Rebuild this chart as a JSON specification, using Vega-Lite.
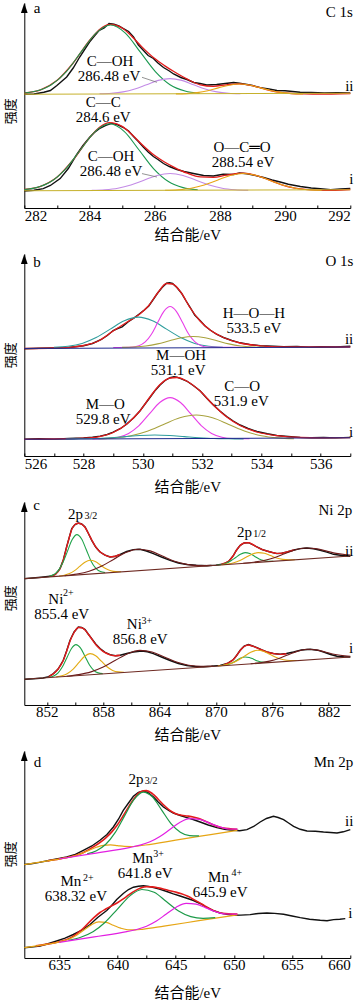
{
"$schema": "https://vega.github.io/schema/vega-lite/v6.json",
"background": "white",
"padding": {"top": 0, "left": 4.3, "right": 0, "bottom": 0},
"spacing": 46,
"bounds": "flush",
"resolve": {"scale": {"color": "independent"}},
"config": {
  "view": {"stroke": null},
  "font": "Liberation Serif",
  "axis": {"grid": false, "domainColor": "#000", "domainWidth": 1, "tickColor": "#000", "tickWidth": 1, "labelColor": "#000", "labelFont": "Liberation Serif", "labelFontSize": 15, "titleColor": "#000", "titleFont": "Liberation Serif, Noto Sans CJK SC", "titleFontSize": 15, "titleFontWeight": "normal"},
  "axisX": {"tickSize": -3, "labelPadding": 3, "labelFlush": true, "labelOverlap": false},
  "axisY": {"ticks": false, "labels": false},
  "text": {"font": "Liberation Serif", "fontSize": 15, "color": "#000", "baseline": "middle"}
},
"datasets": {
"ytitle_a": [{"x":281.585,"y":96.7,"t":"强度"}],
"ytitle_b": [{"x":525.544,"y":100.7,"t":"强度"}],
"ytitle_c": [{"x":848.162,"y":106.7,"t":"强度"}],
"ytitle_d": [{"x":630.839,"y":103.7,"t":"强度"}],
"a_raw": [
{"s":"ii","x":282,"y":113.8},{"s":"ii","x":282.3,"y":114.0},{"s":"ii","x":282.6,"y":115.8},{"s":"ii","x":282.8,"y":117.5},{"s":"ii","x":283.0,"y":122.5},{"s":"ii","x":283.3,"y":131},{"s":"ii","x":283.5,"y":140},{"s":"ii","x":283.7,"y":151},{"s":"ii","x":284.0,"y":166},{"s":"ii","x":284.15,"y":172},{"s":"ii","x":284.3,"y":177.7},{"s":"ii","x":284.45,"y":180},{"s":"ii","x":284.6,"y":184.5},{"s":"ii","x":284.75,"y":183.7},{"s":"ii","x":284.9,"y":182},{"s":"ii","x":285.04,"y":179.4},{"s":"ii","x":285.2,"y":176.5},{"s":"ii","x":285.35,"y":171},{"s":"ii","x":285.5,"y":163},{"s":"ii","x":285.65,"y":157.7},{"s":"ii","x":285.8,"y":152.5},{"s":"ii","x":285.96,"y":149.5},{"s":"ii","x":286.1,"y":145},{"s":"ii","x":286.27,"y":140.5},{"s":"ii","x":286.45,"y":137},{"s":"ii","x":286.58,"y":134},{"s":"ii","x":286.8,"y":130.5},{"s":"ii","x":286.99,"y":128.5},{"s":"ii","x":287.2,"y":125.5},{"s":"ii","x":287.39,"y":124.5},{"s":"ii","x":287.6,"y":123},{"s":"ii","x":287.9,"y":123.5},{"s":"ii","x":288.1,"y":124.2},{"s":"ii","x":288.42,"y":125.5},{"s":"ii","x":288.6,"y":124.8},{"s":"ii","x":288.83,"y":123.5},{"s":"ii","x":289.0,"y":122.5},{"s":"ii","x":289.24,"y":120.4},{"s":"ii","x":289.5,"y":119},{"s":"ii","x":289.75,"y":117.5},{"s":"ii","x":290.0,"y":117.3},{"s":"ii","x":290.46,"y":115.8},{"s":"ii","x":290.8,"y":115.6},{"s":"ii","x":291.2,"y":115.0},{"s":"ii","x":291.6,"y":115.2},{"s":"ii","x":292,"y":115},
{"s":"i","x":282.0,"y":17.0},{"s":"i","x":282.3,"y":17.8},{"s":"i","x":282.58,"y":19.4},{"s":"i","x":282.8,"y":22.5},{"s":"i","x":283.1,"y":29.4},{"s":"i","x":283.35,"y":39.5},{"s":"i","x":283.6,"y":53},{"s":"i","x":283.8,"y":62.5},{"s":"i","x":284.0,"y":70.5},{"s":"i","x":284.15,"y":75.5},{"s":"i","x":284.3,"y":79.4},{"s":"i","x":284.5,"y":82.6},{"s":"i","x":284.68,"y":84.6},{"s":"i","x":284.85,"y":83.5},{"s":"i","x":285.04,"y":80.5},{"s":"i","x":285.2,"y":77},{"s":"i","x":285.35,"y":71.5},{"s":"i","x":285.5,"y":66.5},{"s":"i","x":285.65,"y":61},{"s":"i","x":285.8,"y":56},{"s":"i","x":285.96,"y":51.5},{"s":"i","x":286.1,"y":48.5},{"s":"i","x":286.27,"y":44.5},{"s":"i","x":286.45,"y":41.5},{"s":"i","x":286.68,"y":38.5},{"s":"i","x":286.9,"y":36.5},{"s":"i","x":287.19,"y":34.5},{"s":"i","x":287.5,"y":32.5},{"s":"i","x":287.8,"y":32.0},{"s":"i","x":288.1,"y":33.8},{"s":"i","x":288.42,"y":33.5},{"s":"i","x":288.6,"y":35.0},{"s":"i","x":288.83,"y":34.2},{"s":"i","x":289.1,"y":32.4},{"s":"i","x":289.34,"y":30.5},{"s":"i","x":289.6,"y":28.0},{"s":"i","x":289.85,"y":26.0},{"s":"i","x":290.1,"y":23.8},{"s":"i","x":290.47,"y":21.5},{"s":"i","x":290.8,"y":20.0},{"s":"i","x":291.08,"y":19.2},{"s":"i","x":291.4,"y":18.3},{"s":"i","x":291.7,"y":19.0},{"s":"i","x":292.0,"y":19.5}
],
"a_fit": [
{"s":"ii","x":282,"y":115},{"s":"ii","x":282.5,"y":118.2},{"s":"ii","x":283,"y":127.4},{"s":"ii","x":283.5,"y":145},{"s":"ii","x":284,"y":167.5},{"s":"ii","x":284.3,"y":178.3},{"s":"ii","x":284.65,"y":183.6},{"s":"ii","x":285,"y":180},{"s":"ii","x":285.3,"y":171.6},{"s":"ii","x":285.6,"y":161.4},{"s":"ii","x":286,"y":149.4},{"s":"ii","x":286.3,"y":142.4},{"s":"ii","x":286.6,"y":136.2},{"s":"ii","x":287,"y":128.8},{"s":"ii","x":287.4,"y":123.2},{"s":"ii","x":287.8,"y":121.7},{"s":"ii","x":288.2,"y":123.2},{"s":"ii","x":288.6,"y":124.2},{"s":"ii","x":289,"y":122.3},{"s":"ii","x":289.4,"y":118.7},{"s":"ii","x":289.8,"y":115.8},{"s":"ii","x":290.2,"y":114.5},{"s":"ii","x":290.6,"y":114.1},{"s":"ii","x":291,"y":114},{"s":"ii","x":292,"y":114.5},
{"s":"i","x":282,"y":18.5},{"s":"i","x":282.5,"y":21.7},{"s":"i","x":283,"y":30.7},{"s":"i","x":283.5,"y":48.3},{"s":"i","x":284,"y":70.2},{"s":"i","x":284.3,"y":80.5},{"s":"i","x":284.62,"y":85.4},{"s":"i","x":285,"y":81.6},{"s":"i","x":285.3,"y":73.5},{"s":"i","x":285.6,"y":63.8},{"s":"i","x":286,"y":52.4},{"s":"i","x":286.3,"y":46},{"s":"i","x":286.6,"y":40.7},{"s":"i","x":287,"y":34.8},{"s":"i","x":287.4,"y":31.1},{"s":"i","x":287.8,"y":30.7},{"s":"i","x":288.2,"y":32.9},{"s":"i","x":288.72,"y":34.8},{"s":"i","x":289.1,"y":32.7},{"s":"i","x":289.5,"y":28.1},{"s":"i","x":289.9,"y":23.2},{"s":"i","x":290.3,"y":19.9},{"s":"i","x":290.7,"y":18.3},{"s":"i","x":291.2,"y":17.6},{"s":"i","x":292,"y":18.5}
],
"a_comp": [
{"s":"ii","c":"cc","x":282.0,"y":115.0},{"s":"ii","c":"cc","x":282.37,"y":117.0},{"s":"ii","c":"cc","x":282.83,"y":123.3},{"s":"ii","c":"cc","x":283.29,"y":136.4},{"s":"ii","c":"cc","x":283.74,"y":155.8},{"s":"ii","c":"cc","x":284.2,"y":174.9},{"s":"ii","c":"cc","x":284.65,"y":183},{"s":"ii","c":"cc","x":285.1,"y":174.9},{"s":"ii","c":"cc","x":285.56,"y":155.8},{"s":"ii","c":"cc","x":286.02,"y":136.4},{"s":"ii","c":"cc","x":286.47,"y":123.3},{"s":"ii","c":"cc","x":286.93,"y":117.0},{"s":"ii","c":"cc","x":287.38,"y":114.8},
{"s":"ii","c":"coh","x":284.31,"y":114.2},{"s":"ii","c":"coh","x":284.67,"y":114.7},{"s":"ii","c":"coh","x":285.03,"y":116.1},{"s":"ii","c":"coh","x":285.39,"y":119.0},{"s":"ii","c":"coh","x":285.75,"y":123.3},{"s":"ii","c":"coh","x":286.11,"y":127.6},{"s":"ii","c":"coh","x":286.47,"y":129.4},{"s":"ii","c":"coh","x":286.83,"y":127.6},{"s":"ii","c":"coh","x":287.19,"y":123.3},{"s":"ii","c":"coh","x":287.55,"y":119.0},{"s":"ii","c":"coh","x":287.91,"y":116.1},{"s":"ii","c":"coh","x":288.27,"y":114.7},{"s":"ii","c":"coh","x":288.63,"y":114.2},
{"s":"ii","c":"oco","x":286.65,"y":114.1},{"s":"ii","c":"oco","x":286.98,"y":114.4},{"s":"ii","c":"oco","x":287.3,"y":115.4},{"s":"ii","c":"oco","x":287.63,"y":117.3},{"s":"ii","c":"oco","x":287.95,"y":120.1},{"s":"ii","c":"oco","x":288.28,"y":122.8},{"s":"ii","c":"oco","x":288.6,"y":124},{"s":"ii","c":"oco","x":288.93,"y":122.8},{"s":"ii","c":"oco","x":289.25,"y":120.1},{"s":"ii","c":"oco","x":289.58,"y":117.3},{"s":"ii","c":"oco","x":289.9,"y":115.4},{"s":"ii","c":"oco","x":290.23,"y":114.4},{"s":"ii","c":"oco","x":290.55,"y":114.1},
{"s":"ii","c":"bg","x":282,"y":113.8},{"s":"ii","c":"bg","x":292,"y":114.8},
{"s":"i","c":"cc","x":282.0,"y":18.5},{"s":"i","c":"cc","x":282.37,"y":20.4},{"s":"i","c":"cc","x":282.82,"y":26.5},{"s":"i","c":"cc","x":283.27,"y":39.2},{"s":"i","c":"cc","x":283.72,"y":58.0},{"s":"i","c":"cc","x":284.17,"y":76.4},{"s":"i","c":"cc","x":284.62,"y":84.2},{"s":"i","c":"cc","x":285.07,"y":76.4},{"s":"i","c":"cc","x":285.52,"y":58.0},{"s":"i","c":"cc","x":285.97,"y":39.2},{"s":"i","c":"cc","x":286.42,"y":26.5},{"s":"i","c":"cc","x":286.87,"y":20.4},{"s":"i","c":"cc","x":287.32,"y":18.2},
{"s":"i","c":"coh","x":284.07,"y":17.7},{"s":"i","c":"coh","x":284.47,"y":18.3},{"s":"i","c":"coh","x":284.87,"y":19.8},{"s":"i","c":"coh","x":285.27,"y":23.0},{"s":"i","c":"coh","x":285.67,"y":27.8},{"s":"i","c":"coh","x":286.07,"y":32.5},{"s":"i","c":"coh","x":286.47,"y":34.5},{"s":"i","c":"coh","x":286.87,"y":32.5},{"s":"i","c":"coh","x":287.27,"y":27.8},{"s":"i","c":"coh","x":287.67,"y":23.0},{"s":"i","c":"coh","x":288.07,"y":19.8},{"s":"i","c":"coh","x":288.47,"y":18.3},{"s":"i","c":"coh","x":288.87,"y":17.7},
{"s":"i","c":"oco","x":286.32,"y":17.7},{"s":"i","c":"oco","x":286.72,"y":18.3},{"s":"i","c":"oco","x":287.12,"y":19.8},{"s":"i","c":"oco","x":287.52,"y":23.0},{"s":"i","c":"oco","x":287.92,"y":27.8},{"s":"i","c":"oco","x":288.32,"y":32.5},{"s":"i","c":"oco","x":288.72,"y":34.5},{"s":"i","c":"oco","x":289.12,"y":32.5},{"s":"i","c":"oco","x":289.52,"y":27.8},{"s":"i","c":"oco","x":289.92,"y":23.0},{"s":"i","c":"oco","x":290.32,"y":19.8},{"s":"i","c":"oco","x":290.72,"y":18.3},{"s":"i","c":"oco","x":291.12,"y":17.7},
{"s":"i","c":"bg","x":282,"y":17.2},{"s":"i","c":"bg","x":292,"y":18.3}
],
"a_text": [
{"x":284.63,"y":146.7,"t":"C—OH"},{"x":284.6,"y":131.7,"t":"286.48 eV"},{"x":284.42,"y":106.2,"t":"C—C"},{"x":284.42,"y":91.2,"t":"284.6 eV"},{"x":284.66,"y":51.7,"t":"C—OH"},{"x":284.66,"y":36.7,"t":"286.48 eV"},{"x":288.68,"y":61.2,"t":"O—C═O"},{"x":288.71,"y":46.2,"t":"288.54 eV"},{"x":291.97,"y":121.7,"t":"ii"},{"x":292.03,"y":28.7,"t":"i"},{"x":282.39,"y":200.2,"t":"a"},{"x":291.66,"y":196.2,"t":"C 1s"}
],
"a_lead": [
{"x":285.61,"y":130.7,"x2":286.07,"y2":125.7},{"x":285.61,"y":34.4,"x2":286.07,"y2":31}
],
"b_raw": [
{"s":"ii","x":526.0,"y":107.2},{"s":"ii","x":526.5,"y":107.8},{"s":"ii","x":527.0,"y":108.0},{"s":"ii","x":527.5,"y":108.5},{"s":"ii","x":528.0,"y":110.2},{"s":"ii","x":528.3,"y":112.5},{"s":"ii","x":528.6,"y":116.5},{"s":"ii","x":528.8,"y":120.5},{"s":"ii","x":529.0,"y":125.5},{"s":"ii","x":529.15,"y":127.5},{"s":"ii","x":529.3,"y":129.2},{"s":"ii","x":529.5,"y":134.0},{"s":"ii","x":529.7,"y":138.0},{"s":"ii","x":529.9,"y":142.5},{"s":"ii","x":530.05,"y":146.0},{"s":"ii","x":530.2,"y":150.0},{"s":"ii","x":530.35,"y":156.5},{"s":"ii","x":530.5,"y":163.0},{"s":"ii","x":530.65,"y":168.5},{"s":"ii","x":530.8,"y":172.8},{"s":"ii","x":530.9,"y":173.3},{"s":"ii","x":531.0,"y":172.5},{"s":"ii","x":531.15,"y":168.5},{"s":"ii","x":531.3,"y":163.0},{"s":"ii","x":531.45,"y":155.5},{"s":"ii","x":531.6,"y":148.5},{"s":"ii","x":531.75,"y":141.0},{"s":"ii","x":531.93,"y":135.5},{"s":"ii","x":532.1,"y":130.0},{"s":"ii","x":532.27,"y":126.0},{"s":"ii","x":532.5,"y":121.5},{"s":"ii","x":532.72,"y":118.5},{"s":"ii","x":533.0,"y":115.5},{"s":"ii","x":533.28,"y":113.2},{"s":"ii","x":533.6,"y":111.5},{"s":"ii","x":533.96,"y":110.3},{"s":"ii","x":534.4,"y":109.8},{"s":"ii","x":534.75,"y":109.2},{"s":"ii","x":535.2,"y":109.5},{"s":"ii","x":535.6,"y":108.9},{"s":"ii","x":536.0,"y":109.2},{"s":"ii","x":536.5,"y":109.0},{"s":"ii","x":537.0,"y":109.8},
{"s":"i","x":526.0,"y":16.7},{"s":"i","x":526.5,"y":17.2},{"s":"i","x":527.0,"y":16.9},{"s":"i","x":527.5,"y":17.5},{"s":"i","x":528.0,"y":18.0},{"s":"i","x":528.3,"y":18.9},{"s":"i","x":528.56,"y":19.9},{"s":"i","x":528.8,"y":21.5},{"s":"i","x":529.0,"y":23.8},{"s":"i","x":529.25,"y":27.5},{"s":"i","x":529.46,"y":32.0},{"s":"i","x":529.7,"y":38.5},{"s":"i","x":529.9,"y":45.0},{"s":"i","x":530.05,"y":51.0},{"s":"i","x":530.24,"y":58.5},{"s":"i","x":530.4,"y":65.0},{"s":"i","x":530.58,"y":71.0},{"s":"i","x":530.75,"y":75.5},{"s":"i","x":530.92,"y":78.3},{"s":"i","x":531.05,"y":79.2},{"s":"i","x":531.15,"y":78.8},{"s":"i","x":531.3,"y":77.2},{"s":"i","x":531.48,"y":75.0},{"s":"i","x":531.7,"y":70.5},{"s":"i","x":531.93,"y":65.2},{"s":"i","x":532.15,"y":58.0},{"s":"i","x":532.38,"y":51.0},{"s":"i","x":532.6,"y":45.0},{"s":"i","x":532.83,"y":39.5},{"s":"i","x":533.05,"y":35.0},{"s":"i","x":533.28,"y":31.0},{"s":"i","x":533.55,"y":27.5},{"s":"i","x":533.85,"y":24.5},{"s":"i","x":534.2,"y":22.2},{"s":"i","x":534.52,"y":20.5},{"s":"i","x":534.9,"y":19.5},{"s":"i","x":535.31,"y":18.6},{"s":"i","x":535.7,"y":18.2},{"s":"i","x":536.1,"y":18.5},{"s":"i","x":536.5,"y":18.1},{"s":"i","x":537.0,"y":18.6}
],
"b_fit": [
{"s":"ii","x":526,"y":107.5},{"s":"ii","x":527,"y":108},{"s":"ii","x":527.5,"y":108.6},{"s":"ii","x":528,"y":110.5},{"s":"ii","x":528.5,"y":115},{"s":"ii","x":529,"y":125},{"s":"ii","x":529.5,"y":134.5},{"s":"ii","x":529.9,"y":142},{"s":"ii","x":530.2,"y":150.5},{"s":"ii","x":530.5,"y":163},{"s":"ii","x":530.8,"y":172.5},{"s":"ii","x":531.0,"y":172},{"s":"ii","x":531.3,"y":163},{"s":"ii","x":531.6,"y":148},{"s":"ii","x":531.93,"y":135},{"s":"ii","x":532.27,"y":126},{"s":"ii","x":532.72,"y":118.5},{"s":"ii","x":533.28,"y":113},{"s":"ii","x":533.96,"y":110.2},{"s":"ii","x":534.75,"y":109.2},{"s":"ii","x":536,"y":109},{"s":"ii","x":537,"y":109},
{"s":"i","x":526,"y":16.7},{"s":"i","x":527,"y":17.0},{"s":"i","x":528,"y":17.8},{"s":"i","x":528.5,"y":19.2},{"s":"i","x":529.0,"y":23.5},{"s":"i","x":529.46,"y":32},{"s":"i","x":529.9,"y":45},{"s":"i","x":530.24,"y":59},{"s":"i","x":530.58,"y":71.5},{"s":"i","x":530.92,"y":78},{"s":"i","x":531.15,"y":78.5},{"s":"i","x":531.48,"y":75},{"s":"i","x":531.93,"y":65},{"s":"i","x":532.38,"y":51},{"s":"i","x":532.83,"y":39},{"s":"i","x":533.28,"y":30.5},{"s":"i","x":533.85,"y":24},{"s":"i","x":534.52,"y":20.3},{"s":"i","x":535.31,"y":18.5},{"s":"i","x":536,"y":18.2},{"s":"i","x":537,"y":18.4}
],
"b_comp": [
{"s":"ii","c":"mo","x":527.0,"y":108.8},{"s":"ii","c":"mo","x":527.475,"y":109.8},{"s":"ii","c":"mo","x":527.95,"y":112.6},{"s":"ii","c":"mo","x":528.425,"y":118.4},{"s":"ii","c":"mo","x":528.9,"y":126.9},{"s":"ii","c":"mo","x":529.375,"y":135.3},{"s":"ii","c":"mo","x":529.85,"y":138.9},{"s":"ii","c":"mo","x":530.325,"y":135.3},{"s":"ii","c":"mo","x":530.8,"y":126.9},{"s":"ii","c":"mo","x":531.275,"y":118.4},{"s":"ii","c":"mo","x":531.75,"y":112.6},{"s":"ii","c":"mo","x":532.225,"y":109.8},{"s":"ii","c":"mo","x":532.7,"y":108.8},
{"s":"ii","c":"moh","x":529.0,"y":108.5},{"s":"ii","c":"moh","x":529.66,"y":109.0},{"s":"ii","c":"moh","x":529.87,"y":110.3},{"s":"ii","c":"moh","x":530.08,"y":114.1},{"s":"ii","c":"moh","x":530.29,"y":121.8},{"s":"ii","c":"moh","x":530.5,"y":133.4},{"s":"ii","c":"moh","x":530.71,"y":144.7},{"s":"ii","c":"moh","x":530.92,"y":149.5},{"s":"ii","c":"moh","x":531.13,"y":144.7},{"s":"ii","c":"moh","x":531.34,"y":133.4},{"s":"ii","c":"moh","x":531.55,"y":121.8},{"s":"ii","c":"moh","x":531.76,"y":114.1},{"s":"ii","c":"moh","x":531.97,"y":110.3},{"s":"ii","c":"moh","x":532.18,"y":109.0},{"s":"ii","c":"moh","x":533.3,"y":108.6},
{"s":"ii","c":"co","x":529.3,"y":108.6},{"s":"ii","c":"co","x":529.7,"y":109.0},{"s":"ii","c":"co","x":530.1,"y":110.0},{"s":"ii","c":"co","x":530.5,"y":112.1},{"s":"ii","c":"co","x":530.9,"y":115.2},{"s":"ii","c":"co","x":531.3,"y":118.2},{"s":"ii","c":"co","x":531.7,"y":119.5},{"s":"ii","c":"co","x":532.1,"y":118.2},{"s":"ii","c":"co","x":532.5,"y":115.2},{"s":"ii","c":"co","x":532.9,"y":112.1},{"s":"ii","c":"co","x":533.3,"y":110.0},{"s":"ii","c":"co","x":533.7,"y":109.0},{"s":"ii","c":"co","x":534.1,"y":108.6},
{"s":"ii","c":"bg","x":526,"y":107.5},{"s":"ii","c":"bg","x":537,"y":109},
{"s":"i","c":"moh","x":528.3,"y":17.1},{"s":"i","c":"moh","x":528.82,"y":17.5},{"s":"i","c":"moh","x":529.17,"y":18.8},{"s":"i","c":"moh","x":529.52,"y":22.6},{"s":"i","c":"moh","x":529.87,"y":30.4},{"s":"i","c":"moh","x":530.22,"y":42.1},{"s":"i","c":"moh","x":530.57,"y":53.5},{"s":"i","c":"moh","x":530.92,"y":58.4},{"s":"i","c":"moh","x":531.27,"y":53.5},{"s":"i","c":"moh","x":531.62,"y":42.1},{"s":"i","c":"moh","x":531.97,"y":30.4},{"s":"i","c":"moh","x":532.32,"y":22.6},{"s":"i","c":"moh","x":532.67,"y":18.8},{"s":"i","c":"moh","x":533.02,"y":17.5},{"s":"i","c":"moh","x":533.6,"y":17.3},
{"s":"i","c":"co","x":528.5,"y":17.3},{"s":"i","c":"co","x":529.05,"y":18.1},{"s":"i","c":"co","x":529.6,"y":20.3},{"s":"i","c":"co","x":530.15,"y":24.8},{"s":"i","c":"co","x":530.7,"y":31.6},{"s":"i","c":"co","x":531.25,"y":38.2},{"s":"i","c":"co","x":531.8,"y":41},{"s":"i","c":"co","x":532.35,"y":38.2},{"s":"i","c":"co","x":532.9,"y":31.6},{"s":"i","c":"co","x":533.45,"y":24.8},{"s":"i","c":"co","x":534.0,"y":20.3},{"s":"i","c":"co","x":534.55,"y":18.1},{"s":"i","c":"co","x":535.1,"y":17.3},
{"s":"i","c":"mo","x":527.4,"y":17.0},{"s":"i","c":"mo","x":527.9,"y":17.2},{"s":"i","c":"mo","x":528.4,"y":17.5},{"s":"i","c":"mo","x":528.9,"y":18.3},{"s":"i","c":"mo","x":529.4,"y":19.4},{"s":"i","c":"mo","x":529.9,"y":20.5},{"s":"i","c":"mo","x":530.4,"y":21.0},{"s":"i","c":"mo","x":530.9,"y":20.5},{"s":"i","c":"mo","x":531.4,"y":19.4},{"s":"i","c":"mo","x":531.9,"y":18.3},{"s":"i","c":"mo","x":532.4,"y":17.5},{"s":"i","c":"mo","x":532.9,"y":17.2},{"s":"i","c":"mo","x":533.4,"y":17.0},
{"s":"i","c":"bg","x":526,"y":16.7},{"s":"i","c":"bg","x":537,"y":18.2}
],
"b_text": [
{"x":533.75,"y":143,"t":"H—O—H"},{"x":533.75,"y":128,"t":"533.5 eV"},{"x":531.29,"y":100.8,"t":"M—OH"},{"x":531.19,"y":85.8,"t":"531.1 eV"},{"x":533.35,"y":70,"t":"C—O"},{"x":533.32,"y":55,"t":"531.9 eV"},{"x":528.73,"y":52.5,"t":"M—O"},{"x":528.66,"y":37.5,"t":"529.8 eV"},{"x":536.96,"y":116.7,"t":"ii"},{"x":537.03,"y":23.7,"t":"i"},{"x":526.43,"y":193.7,"t":"b"},{"x":536.63,"y":194.7,"t":"O 1s"}
],
"c_raw": [
{"s":"ii","x":849.67,"y":126.4},{"s":"ii","x":850.5,"y":127.0},{"s":"ii","x":851.4,"y":127.8},{"s":"ii","x":852.34,"y":128.7},{"s":"ii","x":852.9,"y":130.5},{"s":"ii","x":853.4,"y":136.4},{"s":"ii","x":853.75,"y":145},{"s":"ii","x":854.1,"y":158},{"s":"ii","x":854.4,"y":168},{"s":"ii","x":854.65,"y":176.4},{"s":"ii","x":855.0,"y":180.5},{"s":"ii","x":855.35,"y":182},{"s":"ii","x":855.7,"y":181},{"s":"ii","x":856.07,"y":178},{"s":"ii","x":856.4,"y":172},{"s":"ii","x":856.78,"y":164.7},{"s":"ii","x":857.2,"y":158},{"s":"ii","x":857.66,"y":153},{"s":"ii","x":858.2,"y":149.8},{"s":"ii","x":858.73,"y":148},{"s":"ii","x":859.3,"y":148.8},{"s":"ii","x":859.8,"y":150.7},{"s":"ii","x":860.5,"y":153.5},{"s":"ii","x":861.2,"y":155.4},{"s":"ii","x":861.92,"y":155.7},{"s":"ii","x":862.6,"y":154},{"s":"ii","x":863.34,"y":151.4},{"s":"ii","x":864.2,"y":148},{"s":"ii","x":865.12,"y":144.7},{"s":"ii","x":866.0,"y":142},{"s":"ii","x":866.9,"y":140.5},{"s":"ii","x":867.9,"y":139.7},{"s":"ii","x":869.03,"y":139.3},{"s":"ii","x":870.0,"y":139.9},{"s":"ii","x":870.8,"y":141.0},{"s":"ii","x":871.4,"y":144},{"s":"ii","x":871.86,"y":149.7},{"s":"ii","x":872.2,"y":155},{"s":"ii","x":872.58,"y":159.7},{"s":"ii","x":873.0,"y":162},{"s":"ii","x":873.46,"y":162.4},{"s":"ii","x":873.9,"y":160.5},{"s":"ii","x":874.36,"y":158},{"s":"ii","x":874.9,"y":155.5},{"s":"ii","x":875.42,"y":154},{"s":"ii","x":876.0,"y":152.5},{"s":"ii","x":876.49,"y":151.4},{"s":"ii","x":877.0,"y":151.8},{"s":"ii","x":877.55,"y":153},{"s":"ii","x":878.3,"y":155},{"s":"ii","x":878.97,"y":156.4},{"s":"ii","x":879.68,"y":157},{"s":"ii","x":880.4,"y":156.2},{"s":"ii","x":881.1,"y":154.7},{"s":"ii","x":881.8,"y":152.8},{"s":"ii","x":882.52,"y":150.7},{"s":"ii","x":883.4,"y":149.5},{"s":"ii","x":884.3,"y":148.7},
{"s":"i","x":849.67,"y":25.7},{"s":"i","x":850.6,"y":26.2},{"s":"i","x":851.6,"y":27},{"s":"i","x":852.2,"y":28.3},{"s":"i","x":852.7,"y":31.4},{"s":"i","x":853.2,"y":36},{"s":"i","x":853.75,"y":44.7},{"s":"i","x":854.1,"y":54},{"s":"i","x":854.47,"y":64.7},{"s":"i","x":854.9,"y":73},{"s":"i","x":855.35,"y":78},{"s":"i","x":855.7,"y":77.5},{"s":"i","x":856.07,"y":75.4},{"s":"i","x":856.4,"y":71},{"s":"i","x":856.78,"y":66.4},{"s":"i","x":857.2,"y":61},{"s":"i","x":857.66,"y":56.4},{"s":"i","x":858.2,"y":52.6},{"s":"i","x":858.73,"y":50.4},{"s":"i","x":859.3,"y":49.3},{"s":"i","x":859.8,"y":49.7},{"s":"i","x":860.5,"y":51.5},{"s":"i","x":861.2,"y":53},{"s":"i","x":862.1,"y":54},{"s":"i","x":862.7,"y":53.2},{"s":"i","x":863.34,"y":51.4},{"s":"i","x":864.2,"y":48},{"s":"i","x":865.12,"y":44.5},{"s":"i","x":866.0,"y":41.5},{"s":"i","x":866.9,"y":39.5},{"s":"i","x":867.8,"y":38.5},{"s":"i","x":868.67,"y":38.2},{"s":"i","x":869.5,"y":38.7},{"s":"i","x":870.45,"y":39.6},{"s":"i","x":871.2,"y":41.5},{"s":"i","x":871.86,"y":45.5},{"s":"i","x":872.2,"y":49.5},{"s":"i","x":872.58,"y":54.7},{"s":"i","x":873.0,"y":58.8},{"s":"i","x":873.46,"y":60.4},{"s":"i","x":873.9,"y":59},{"s":"i","x":874.36,"y":57.4},{"s":"i","x":874.9,"y":55},{"s":"i","x":875.42,"y":53},{"s":"i","x":876.1,"y":51.5},{"s":"i","x":876.84,"y":50.7},{"s":"i","x":877.5,"y":51.5},{"s":"i","x":878.26,"y":53},{"s":"i","x":879.1,"y":55},{"s":"i","x":880.04,"y":55.7},{"s":"i","x":880.8,"y":54.8},{"s":"i","x":881.46,"y":53},{"s":"i","x":882.2,"y":50.5},{"s":"i","x":882.88,"y":48.7},{"s":"i","x":883.6,"y":48.2},{"s":"i","x":884.3,"y":48}
],
"c_fit": [
{"s":"ii1","x":852.34,"y":128.7},{"s":"ii1","x":852.9,"y":130.5},{"s":"ii1","x":853.4,"y":136.2},{"s":"ii1","x":853.75,"y":145},{"s":"ii1","x":854.1,"y":157.5},{"s":"ii1","x":854.4,"y":168},{"s":"ii1","x":854.65,"y":175.5},{"s":"ii1","x":855.0,"y":180.5},{"s":"ii1","x":855.35,"y":181.8},{"s":"ii1","x":855.7,"y":180.8},{"s":"ii1","x":856.07,"y":177.5},{"s":"ii1","x":856.4,"y":172},{"s":"ii1","x":856.78,"y":165},{"s":"ii1","x":857.2,"y":158.2},{"s":"ii1","x":857.66,"y":153.2},{"s":"ii1","x":858.2,"y":149.8},{"s":"ii1","x":858.73,"y":148.2},{"s":"ii1","x":859.3,"y":148.8},{"s":"ii1","x":859.8,"y":150.5},
{"s":"ii2","x":870.6,"y":140.8},{"s":"ii2","x":871.0,"y":142},{"s":"ii2","x":871.4,"y":144.2},{"s":"ii2","x":871.86,"y":149.5},{"s":"ii2","x":872.2,"y":155},{"s":"ii2","x":872.58,"y":159.5},{"s":"ii2","x":873.0,"y":162},{"s":"ii2","x":873.46,"y":162.2},{"s":"ii2","x":873.9,"y":160.5},{"s":"ii2","x":874.36,"y":158},{"s":"ii2","x":874.9,"y":155.6},{"s":"ii2","x":875.42,"y":154},{"s":"ii2","x":876.0,"y":152.6},{"s":"ii2","x":876.49,"y":151.6},{"s":"ii2","x":877.0,"y":151.8},{"s":"ii2","x":877.55,"y":153},{"s":"ii2","x":878.3,"y":155},
{"s":"i1","x":852.2,"y":28.3},{"s":"i1","x":852.7,"y":31.2},{"s":"i1","x":853.2,"y":36},{"s":"i1","x":853.75,"y":44.5},{"s":"i1","x":854.1,"y":53.5},{"s":"i1","x":854.47,"y":64},{"s":"i1","x":854.9,"y":72.5},{"s":"i1","x":855.35,"y":77.5},{"s":"i1","x":855.7,"y":77.3},{"s":"i1","x":856.07,"y":75},{"s":"i1","x":856.4,"y":71},{"s":"i1","x":856.78,"y":66},{"s":"i1","x":857.2,"y":60.5},{"s":"i1","x":857.66,"y":56},{"s":"i1","x":858.2,"y":52.3},{"s":"i1","x":858.73,"y":50.2},{"s":"i1","x":859.3,"y":49.3},{"s":"i1","x":859.8,"y":49.8},
{"s":"i2","x":870.8,"y":40.2},{"s":"i2","x":871.4,"y":42.5},{"s":"i2","x":871.86,"y":45.5},{"s":"i2","x":872.2,"y":49.5},{"s":"i2","x":872.58,"y":54.5},{"s":"i2","x":873.0,"y":58.5},{"s":"i2","x":873.46,"y":60},{"s":"i2","x":873.9,"y":58.8},{"s":"i2","x":874.36,"y":57.2},{"s":"i2","x":874.9,"y":55},{"s":"i2","x":875.42,"y":53},{"s":"i2","x":876.1,"y":51.5},{"s":"i2","x":876.84,"y":50.6},{"s":"i2","x":877.5,"y":51.3}
],
"c_comp": [
{"s":"iia","c":"g","x":852.2,"y":128.5},{"s":"iia","c":"g","x":852.7,"y":130.2},{"s":"iia","c":"g","x":853.2,"y":134.2},{"s":"iia","c":"g","x":853.7,"y":142.2},{"s":"iia","c":"g","x":854.2,"y":153.9},{"s":"iia","c":"g","x":854.7,"y":165.4},{"s":"iia","c":"g","x":855.2,"y":170.4},{"s":"iia","c":"g","x":855.7,"y":166.0},{"s":"iia","c":"g","x":856.2,"y":155.2},{"s":"iia","c":"g","x":856.7,"y":144.1},{"s":"iia","c":"g","x":857.2,"y":136.8},{"s":"iia","c":"g","x":857.7,"y":133.4},{"s":"iia","c":"g","x":858.2,"y":132.4},
{"s":"iia","c":"o","x":853.3,"y":129.0},{"s":"iia","c":"o","x":853.85,"y":129.8},{"s":"iia","c":"o","x":854.4,"y":131.4},{"s":"iia","c":"o","x":854.95,"y":134.4},{"s":"iia","c":"o","x":855.5,"y":138.6},{"s":"iia","c":"o","x":856.05,"y":142.8},{"s":"iia","c":"o","x":856.6,"y":144.8},{"s":"iia","c":"o","x":857.15,"y":143.5},{"s":"iia","c":"o","x":857.7,"y":140.0},{"s":"iia","c":"o","x":858.25,"y":136.5},{"s":"iia","c":"o","x":858.8,"y":134.3},{"s":"iia","c":"o","x":859.35,"y":133.4},{"s":"iia","c":"o","x":859.9,"y":133.3},
{"s":"iia","c":"s","x":853.9,"y":129.4},{"s":"iia","c":"s","x":855.2,"y":131.0},{"s":"iia","c":"s","x":856.5,"y":133.8},{"s":"iia","c":"s","x":857.8,"y":138.7},{"s":"iia","c":"s","x":859.1,"y":145.6},{"s":"iia","c":"s","x":860.4,"y":152.4},{"s":"iia","c":"s","x":861.7,"y":155.8},{"s":"iia","c":"s","x":863.0,"y":154.1},{"s":"iia","c":"s","x":864.3,"y":149.0},{"s":"iia","c":"s","x":865.6,"y":143.8},{"s":"iia","c":"s","x":866.9,"y":140.6},{"s":"iia","c":"s","x":868.2,"y":139.4},{"s":"iia","c":"s","x":869.5,"y":139.6},
{"s":"iib","c":"g","x":870.1,"y":139.9},{"s":"iib","c":"g","x":870.6,"y":140.5},{"s":"iib","c":"g","x":871.1,"y":141.8},{"s":"iib","c":"g","x":871.6,"y":144.2},{"s":"iib","c":"g","x":872.1,"y":147.5},{"s":"iib","c":"g","x":872.6,"y":150.8},{"s":"iib","c":"g","x":873.1,"y":152.4},{"s":"iib","c":"g","x":873.6,"y":151.4},{"s":"iib","c":"g","x":874.1,"y":148.8},{"s":"iib","c":"g","x":874.6,"y":146.1},{"s":"iib","c":"g","x":875.1,"y":144.4},{"s":"iib","c":"g","x":875.6,"y":143.8},{"s":"iib","c":"g","x":876.1,"y":143.8},
{"s":"iib","c":"o","x":870.6,"y":140.2},{"s":"iib","c":"o","x":871.25,"y":140.9},{"s":"iib","c":"o","x":871.9,"y":142.2},{"s":"iib","c":"o","x":872.55,"y":144.5},{"s":"iib","c":"o","x":873.2,"y":147.7},{"s":"iib","c":"o","x":873.85,"y":150.8},{"s":"iib","c":"o","x":874.5,"y":152.4},{"s":"iib","c":"o","x":875.15,"y":151.7},{"s":"iib","c":"o","x":875.8,"y":149.4},{"s":"iib","c":"o","x":876.45,"y":147.0},{"s":"iib","c":"o","x":877.1,"y":145.6},{"s":"iib","c":"o","x":877.75,"y":145.1},{"s":"iib","c":"o","x":878.4,"y":145.2},
{"s":"iib","c":"s","x":872.9,"y":141.7},{"s":"iib","c":"s","x":874.0,"y":142.8},{"s":"iib","c":"s","x":875.1,"y":144.5},{"s":"iib","c":"s","x":876.2,"y":147.3},{"s":"iib","c":"s","x":877.3,"y":151.2},{"s":"iib","c":"s","x":878.4,"y":155.0},{"s":"iib","c":"s","x":879.5,"y":157.0},{"s":"iib","c":"s","x":880.6,"y":156.4},{"s":"iib","c":"s","x":881.7,"y":154.1},{"s":"iib","c":"s","x":882.8,"y":151.6},{"s":"iib","c":"s","x":883.9,"y":150.2},{"s":"iib","c":"s","x":884.3,"y":150.0},
{"s":"iia","c":"bg","x":849.6,"y":126.4},{"s":"iia","c":"bg","x":884.3,"y":149.0},
{"s":"ia","c":"g","x":852.25,"y":27.8},{"s":"ia","c":"g","x":852.725,"y":29.1},{"s":"ia","c":"g","x":853.2,"y":32.2},{"s":"ia","c":"g","x":853.675,"y":38.5},{"s":"ia","c":"g","x":854.15,"y":47.6},{"s":"ia","c":"g","x":854.625,"y":56.5},{"s":"ia","c":"g","x":855.1,"y":60.4},{"s":"ia","c":"g","x":855.575,"y":57.1},{"s":"ia","c":"g","x":856.05,"y":48.8},{"s":"ia","c":"g","x":856.525,"y":40.3},{"s":"ia","c":"g","x":857.0,"y":34.7},{"s":"ia","c":"g","x":857.475,"y":32.1},{"s":"ia","c":"g","x":857.95,"y":31.4},
{"s":"ia","c":"o","x":853.0,"y":28.1},{"s":"ia","c":"o","x":853.6,"y":29.2},{"s":"ia","c":"o","x":854.2,"y":31.5},{"s":"ia","c":"o","x":854.8,"y":35.9},{"s":"ia","c":"o","x":855.4,"y":42.3},{"s":"ia","c":"o","x":856.0,"y":48.5},{"s":"ia","c":"o","x":856.6,"y":51.4},{"s":"ia","c":"o","x":857.2,"y":49.3},{"s":"ia","c":"o","x":857.8,"y":43.8},{"s":"ia","c":"o","x":858.4,"y":38.2},{"s":"ia","c":"o","x":859.0,"y":34.6},{"s":"ia","c":"o","x":859.6,"y":33.1},{"s":"ia","c":"o","x":860.2,"y":32.8},
{"s":"ia","c":"s","x":854.1,"y":28.8},{"s":"ia","c":"s","x":855.4,"y":30.4},{"s":"ia","c":"s","x":856.7,"y":33.1},{"s":"ia","c":"s","x":858.0,"y":37.9},{"s":"ia","c":"s","x":859.3,"y":44.7},{"s":"ia","c":"s","x":860.6,"y":51.3},{"s":"ia","c":"s","x":861.9,"y":54.6},{"s":"ia","c":"s","x":863.2,"y":53.0},{"s":"ia","c":"s","x":864.5,"y":48.0},{"s":"ia","c":"s","x":865.8,"y":42.9},{"s":"ia","c":"s","x":867.1,"y":39.8},{"s":"ia","c":"s","x":868.4,"y":38.7},{"s":"ia","c":"s","x":869.7,"y":38.9},
{"s":"ib","c":"g","x":870.4,"y":39.2},{"s":"ib","c":"g","x":870.85,"y":39.7},{"s":"ib","c":"g","x":871.3,"y":40.6},{"s":"ib","c":"g","x":871.75,"y":42.3},{"s":"ib","c":"g","x":872.2,"y":44.6},{"s":"ib","c":"g","x":872.65,"y":46.9},{"s":"ib","c":"g","x":873.1,"y":48.0},{"s":"ib","c":"g","x":873.55,"y":47.5},{"s":"ib","c":"g","x":874.0,"y":45.8},{"s":"ib","c":"g","x":874.45,"y":44.0},{"s":"ib","c":"g","x":874.9,"y":42.9},{"s":"ib","c":"g","x":875.35,"y":42.6},{"s":"ib","c":"g","x":875.8,"y":42.6},
{"s":"ib","c":"o","x":870.2,"y":39.1},{"s":"ib","c":"o","x":870.9,"y":40.0},{"s":"ib","c":"o","x":871.6,"y":41.6},{"s":"ib","c":"o","x":872.3,"y":44.5},{"s":"ib","c":"o","x":873.0,"y":48.6},{"s":"ib","c":"o","x":873.7,"y":52.7},{"s":"ib","c":"o","x":874.4,"y":54.7},{"s":"ib","c":"o","x":875.1,"y":53.6},{"s":"ib","c":"o","x":875.8,"y":50.4},{"s":"ib","c":"o","x":876.5,"y":47.2},{"s":"ib","c":"o","x":877.2,"y":45.2},{"s":"ib","c":"o","x":877.9,"y":44.5},{"s":"ib","c":"o","x":878.6,"y":44.5},
{"s":"ib","c":"s","x":873.7,"y":41.3},{"s":"ib","c":"s","x":874.7,"y":42.3},{"s":"ib","c":"s","x":875.7,"y":43.9},{"s":"ib","c":"s","x":876.7,"y":46.6},{"s":"ib","c":"s","x":877.7,"y":50.3},{"s":"ib","c":"s","x":878.7,"y":53.9},{"s":"ib","c":"s","x":879.7,"y":55.8},{"s":"ib","c":"s","x":880.7,"y":55.1},{"s":"ib","c":"s","x":881.7,"y":52.8},{"s":"ib","c":"s","x":882.7,"y":50.5},{"s":"ib","c":"s","x":883.7,"y":49.1},{"s":"ib","c":"s","x":884.3,"y":48.8},
{"s":"ia","c":"bg","x":849.6,"y":25.7},{"s":"ia","c":"bg","x":884.3,"y":48.0}
],
"c_text": [
{"x":855.05,"y":191.2,"t":"2p"},{"x":873.03,"y":173,"t":"2p"},{"x":852.96,"y":105.5,"t":"Ni"},{"x":853.58,"y":90.5,"t":"855.4 eV"},{"x":861.31,"y":80.5,"t":"Ni"},{"x":861.93,"y":65.5,"t":"856.8 eV"},{"x":884.18,"y":153.9,"t":"ii"},{"x":884.39,"y":57.2,"t":"i"},{"x":850.92,"y":199.7,"t":"c"},{"x":882.7,"y":194.7,"t":"Ni 2p"}
],
"c_small": [
{"x":856.0,"y":188.7,"t":"3/2"},{"x":873.96,"y":170.5,"t":"1/2"},{"x":853.72,"y":111.5,"t":"2+"},{"x":862.07,"y":84,"t":"3+"}
],
"d_raw": [
{"s":"ii","x":632.0,"y":93.5},{"s":"ii","x":632.6,"y":94.2},{"s":"ii","x":633.3,"y":95.6},{"s":"ii","x":634.2,"y":97.7},{"s":"ii","x":635.0,"y":99.5},{"s":"ii","x":635.65,"y":101},{"s":"ii","x":636.3,"y":103.2},{"s":"ii","x":637.07,"y":107.7},{"s":"ii","x":637.8,"y":112},{"s":"ii","x":638.5,"y":117.7},{"s":"ii","x":639.1,"y":123.5},{"s":"ii","x":639.65,"y":131},{"s":"ii","x":640.1,"y":139},{"s":"ii","x":640.5,"y":147.7},{"s":"ii","x":640.95,"y":155},{"s":"ii","x":641.37,"y":161.7},{"s":"ii","x":641.8,"y":165.5},{"s":"ii","x":642.23,"y":167},{"s":"ii","x":642.6,"y":165.5},{"s":"ii","x":643.1,"y":161},{"s":"ii","x":643.5,"y":156},{"s":"ii","x":643.95,"y":151},{"s":"ii","x":644.4,"y":147.5},{"s":"ii","x":644.8,"y":145},{"s":"ii","x":645.4,"y":142.5},{"s":"ii","x":645.96,"y":140.4},{"s":"ii","x":646.5,"y":138.5},{"s":"ii","x":647.1,"y":136},{"s":"ii","x":647.8,"y":133},{"s":"ii","x":648.54,"y":130.4},{"s":"ii","x":649.2,"y":128.6},{"s":"ii","x":649.97,"y":127.7},{"s":"ii","x":650.5,"y":127.2},{"s":"ii","x":651.12,"y":128.4},{"s":"ii","x":651.7,"y":131.5},{"s":"ii","x":652.26,"y":136},{"s":"ii","x":652.8,"y":139.5},{"s":"ii","x":653.4,"y":141.7},{"s":"ii","x":653.8,"y":140.5},{"s":"ii","x":654.27,"y":138.4},{"s":"ii","x":654.7,"y":135},{"s":"ii","x":655.13,"y":131.7},{"s":"ii","x":655.7,"y":128.7},{"s":"ii","x":656.28,"y":127},{"s":"ii","x":657.0,"y":126.8},{"s":"ii","x":657.7,"y":126},{"s":"ii","x":658.3,"y":125.5},{"s":"ii","x":658.86,"y":125},{"s":"ii","x":659.4,"y":126.2},{"s":"ii","x":660.0,"y":128.4},
{"s":"i","x":632.0,"y":10.3},{"s":"i","x":632.6,"y":11.0},{"s":"i","x":633.35,"y":11.9},{"s":"i","x":634.1,"y":14.5},{"s":"i","x":634.78,"y":17.0},{"s":"i","x":635.5,"y":19.8},{"s":"i","x":636.21,"y":23.5},{"s":"i","x":636.9,"y":27.5},{"s":"i","x":637.65,"y":33.5},{"s":"i","x":638.3,"y":40.5},{"s":"i","x":639.08,"y":47.5},{"s":"i","x":639.5,"y":52.5},{"s":"i","x":639.94,"y":58.5},{"s":"i","x":640.5,"y":64.5},{"s":"i","x":640.95,"y":68.5},{"s":"i","x":641.37,"y":70.8},{"s":"i","x":641.8,"y":71.8},{"s":"i","x":642.23,"y":72.2},{"s":"i","x":642.7,"y":71.5},{"s":"i","x":643.1,"y":70.3},{"s":"i","x":643.6,"y":68.8},{"s":"i","x":644.24,"y":66.5},{"s":"i","x":644.8,"y":64.2},{"s":"i","x":645.38,"y":62.0},{"s":"i","x":645.9,"y":60.0},{"s":"i","x":646.53,"y":57.5},{"s":"i","x":647.1,"y":54.5},{"s":"i","x":647.68,"y":50.5},{"s":"i","x":648.2,"y":47.5},{"s":"i","x":648.82,"y":45.0},{"s":"i","x":649.4,"y":43.6},{"s":"i","x":649.97,"y":42.7},{"s":"i","x":650.6,"y":42.9},{"s":"i","x":651.4,"y":43.4},{"s":"i","x":652.1,"y":44.5},{"s":"i","x":652.84,"y":45.0},{"s":"i","x":653.5,"y":44.6},{"s":"i","x":654.27,"y":43.7},{"s":"i","x":655.0,"y":42.0},{"s":"i","x":655.7,"y":40.4},{"s":"i","x":656.5,"y":38.8},{"s":"i","x":657.42,"y":37.7},{"s":"i","x":658.0,"y":37.2},{"s":"i","x":658.57,"y":38.4},{"s":"i","x":659.1,"y":38.8},{"s":"i","x":659.57,"y":39.4}
],
"d_fit": [
{"s":"ii","x":634,"y":97.1},{"s":"ii","x":635,"y":99.0},{"s":"ii","x":636,"y":101.3},{"s":"ii","x":637,"y":105.1},{"s":"ii","x":638,"y":111.6},{"s":"ii","x":639,"y":120.2},{"s":"ii","x":639.5,"y":125.9},{"s":"ii","x":640,"y":133.2},{"s":"ii","x":640.5,"y":142.2},{"s":"ii","x":641,"y":151.9},{"s":"ii","x":641.5,"y":160.6},{"s":"ii","x":642,"y":166.2},{"s":"ii","x":642.5,"y":167.4},{"s":"ii","x":643,"y":164.4},{"s":"ii","x":643.5,"y":158.8},{"s":"ii","x":644,"y":152.7},{"s":"ii","x":644.5,"y":147.6},{"s":"ii","x":645,"y":144.3},{"s":"ii","x":645.5,"y":142.8},{"s":"ii","x":646,"y":142.0},{"s":"ii","x":646.5,"y":141.0},{"s":"ii","x":647,"y":139.4},{"s":"ii","x":647.5,"y":137.1},{"s":"ii","x":648,"y":134.4},{"s":"ii","x":649,"y":130.3},{"s":"ii","x":650.3,"y":128.8},
{"s":"i","x":633,"y":12.1},{"s":"i","x":634,"y":13.9},{"s":"i","x":635,"y":16.2},{"s":"i","x":636,"y":20.4},{"s":"i","x":637,"y":29.0},{"s":"i","x":638,"y":40.7},{"s":"i","x":638.5,"y":45.5},{"s":"i","x":639,"y":49.0},{"s":"i","x":639.5,"y":52.1},{"s":"i","x":640,"y":55.3},{"s":"i","x":640.5,"y":59.1},{"s":"i","x":641,"y":63.3},{"s":"i","x":641.5,"y":67.1},{"s":"i","x":642,"y":69.9},{"s":"i","x":642.5,"y":71.2},{"s":"i","x":643,"y":71.1},{"s":"i","x":643.5,"y":70.1},{"s":"i","x":644,"y":68.8},{"s":"i","x":644.5,"y":67.3},{"s":"i","x":645,"y":65.9},{"s":"i","x":645.5,"y":64.2},{"s":"i","x":646,"y":61.9},{"s":"i","x":646.5,"y":58.9},{"s":"i","x":647,"y":55.6},{"s":"i","x":647.5,"y":52.1},{"s":"i","x":648,"y":48.9},{"s":"i","x":649,"y":44.7},{"s":"i","x":650.3,"y":43.9}
],
"d_comp": [
{"s":"ii","c":"o","x":632.0,"y":93.3},{"s":"ii","c":"o","x":634.0,"y":97.1},{"s":"ii","c":"o","x":635.2,"y":99.4},{"s":"ii","c":"o","x":636.4,"y":102.5},{"s":"ii","c":"o","x":637.0,"y":104.9},{"s":"ii","c":"o","x":637.6,"y":107.9},{"s":"ii","c":"o","x":638.2,"y":110.8},{"s":"ii","c":"o","x":638.8,"y":112.7},{"s":"ii","c":"o","x":639.4,"y":113.1},{"s":"ii","c":"o","x":640.0,"y":112.4},{"s":"ii","c":"o","x":640.6,"y":111.6},{"s":"ii","c":"o","x":641.2,"y":111.5},{"s":"ii","c":"o","x":642.4,"y":113.0},{"s":"ii","c":"o","x":645,"y":117.8},{"s":"ii","c":"o","x":648,"y":123.4},{"s":"ii","c":"o","x":650.3,"y":127.7},
{"s":"ii","c":"g","x":637.4,"y":104.1},{"s":"ii","c":"g","x":638.2,"y":107.3},{"s":"ii","c":"g","x":639.0,"y":113.7},{"s":"ii","c":"g","x":639.8,"y":125.3},{"s":"ii","c":"g","x":640.6,"y":141.9},{"s":"ii","c":"g","x":641.4,"y":158.1},{"s":"ii","c":"g","x":642.2,"y":165.9},{"s":"ii","c":"g","x":643.0,"y":161.1},{"s":"ii","c":"g","x":643.8,"y":147.9},{"s":"ii","c":"g","x":644.6,"y":134.4},{"s":"ii","c":"g","x":645.4,"y":125.8},{"s":"ii","c":"g","x":646.2,"y":122.4},{"s":"ii","c":"g","x":647.0,"y":122.1},
{"s":"ii","c":"m","x":635.0,"y":99.0},{"s":"ii","c":"m","x":638.0,"y":104.6},{"s":"ii","c":"m","x":641.1,"y":110.6},{"s":"ii","c":"m","x":641.95,"y":112.9},{"s":"ii","c":"m","x":642.8,"y":116.2},{"s":"ii","c":"m","x":643.65,"y":121.5},{"s":"ii","c":"m","x":644.5,"y":128.5},{"s":"ii","c":"m","x":645.35,"y":135.5},{"s":"ii","c":"m","x":646.2,"y":139.3},{"s":"ii","c":"m","x":647.05,"y":138.7},{"s":"ii","c":"m","x":647.9,"y":134.9},{"s":"ii","c":"m","x":648.75,"y":131.1},{"s":"ii","c":"m","x":649.6,"y":129.0},{"s":"ii","c":"m","x":650.3,"y":128.8},
{"s":"i","c":"o","x":632.0,"y":10.3},{"s":"i","c":"o","x":634.0,"y":13.9},{"s":"i","c":"o","x":634.65,"y":15.2},{"s":"i","c":"o","x":635.275,"y":16.8},{"s":"i","c":"o","x":635.9,"y":19.2},{"s":"i","c":"o","x":636.525,"y":23.1},{"s":"i","c":"o","x":637.15,"y":28.2},{"s":"i","c":"o","x":637.775,"y":33.3},{"s":"i","c":"o","x":638.4,"y":36.1},{"s":"i","c":"o","x":639.025,"y":35.6},{"s":"i","c":"o","x":639.65,"y":32.7},{"s":"i","c":"o","x":640.275,"y":29.8},{"s":"i","c":"o","x":640.9,"y":28.2},{"s":"i","c":"o","x":641.525,"y":28.1},{"s":"i","c":"o","x":642.15,"y":28.7},{"s":"i","c":"o","x":644,"y":31.9},{"s":"i","c":"o","x":647,"y":37.3},{"s":"i","c":"o","x":650.3,"y":43.2},
{"s":"i","c":"g","x":635.8,"y":17.6},{"s":"i","c":"g","x":636.85,"y":20.8},{"s":"i","c":"g","x":637.9,"y":26.3},{"s":"i","c":"g","x":638.95,"y":35.8},{"s":"i","c":"g","x":640.0,"y":48.9},{"s":"i","c":"g","x":641.05,"y":61.9},{"s":"i","c":"g","x":642.1,"y":68.5},{"s":"i","c":"g","x":643.15,"y":65.7},{"s":"i","c":"g","x":644.2,"y":56.5},{"s":"i","c":"g","x":645.25,"y":47.1},{"s":"i","c":"g","x":646.3,"y":41.4},{"s":"i","c":"g","x":647.35,"y":39.7},{"s":"i","c":"g","x":648.4,"y":40.3},
{"s":"i","c":"m","x":635.0,"y":15.7},{"s":"i","c":"m","x":638.0,"y":21.1},{"s":"i","c":"m","x":640.8,"y":26.3},{"s":"i","c":"m","x":641.65,"y":28.5},{"s":"i","c":"m","x":642.5,"y":31.8},{"s":"i","c":"m","x":643.35,"y":37.0},{"s":"i","c":"m","x":644.2,"y":44.0},{"s":"i","c":"m","x":645.05,"y":50.8},{"s":"i","c":"m","x":645.9,"y":54.6},{"s":"i","c":"m","x":646.75,"y":53.9},{"s":"i","c":"m","x":647.6,"y":50.1},{"s":"i","c":"m","x":648.45,"y":46.2},{"s":"i","c":"m","x":649.3,"y":44.0},{"s":"i","c":"m","x":650.3,"y":43.9}
],
"d_text": [
{"x":641.59,"y":179.4,"t":"2p"},{"x":642.16,"y":99.5,"t":"Mn"},{"x":642.38,"y":84.5,"t":"641.8 eV"},{"x":636.0,"y":76.5,"t":"Mn"},{"x":636.43,"y":61.5,"t":"638.32 eV"},{"x":648.68,"y":81.2,"t":"Mn"},{"x":648.82,"y":66.2,"t":"645.9 eV"},{"x":659.91,"y":136.7,"t":"ii"},{"x":660.0,"y":45.2,"t":"i"},{"x":633.13,"y":195.7,"t":"d"},{"x":658.56,"y":196,"t":"Mn 2p"}
],
"d_small": [
{"x":642.35,"y":177,"t":"3/2"},{"x":643.07,"y":103.7,"t":"3+"},{"x":637.05,"y":80,"t":"2+"},{"x":649.8,"y":84.7,"t":"4+"}
]
},
"vconcat": [
{
  "width": 326, "height": 205,
  "encoding": {
    "x": {"field": "x", "type": "quantitative", "scale": {"domain": [282, 292], "nice": false, "zero": false}, "axis": {"title": "结合能/eV", "values": [282,283,284,285,286,287,288,289,290,291,292], "labelExpr": "datum.value % 2 == 0 ? datum.label : ''", "titlePadding": 4}},
    "y": {"field": "y", "type": "quantitative", "scale": {"domain": [0, 205], "nice": false, "zero": false}, "axis": {"title": null}}
  },
  "layer": [
    {"data": {"name": "a_raw"}, "mark": {"type": "line", "color": "#111111", "strokeWidth": 1.4}, "encoding": {"detail": {"field": "s"}}},
    {"data": {"name": "a_fit"}, "mark": {"type": "line", "color": "#e31b1b", "strokeWidth": 1.3, "interpolate": "monotone"}, "encoding": {"detail": {"field": "s"}}},
    {"data": {"name": "a_comp"}, "mark": {"type": "line", "strokeWidth": 1.1, "interpolate": "monotone"}, "encoding": {"detail": {"field": "s"}, "color": {"field": "c", "type": "nominal", "scale": {"domain": ["cc","coh","oco","bg"], "range": ["#1a9850","#c38be6","#e8a515","#c6b12c"]}, "legend": null}}},
    {"data": {"name": "a_lead"}, "mark": {"type": "rule", "color": "#777777", "strokeWidth": 0.8}, "encoding": {"x2": {"field": "x2"}, "y2": {"field": "y2"}}},
    {"data": {"name": "a_text"}, "mark": {"type": "text"}, "encoding": {"text": {"field": "t"}}},
    {"data": {"name": "ytitle_a"}, "mark": {"type": "text", "angle": 270, "font": "Noto Sans CJK SC", "fontSize": 13, "align": "center"}, "encoding": {"text": {"field": "t"}}},
    {"data": {"values": [{"x": 282, "y": 205}]}, "mark": {"type": "point", "shape": "M0,-1L0.67,1L-0.67,1Z", "size": 100, "filled": true, "color": "#000000", "opacity": 1, "yOffset": 5}}
  ]
},
{
  "width": 326, "height": 202,
  "encoding": {
    "x": {"field": "x", "type": "quantitative", "scale": {"domain": [526, 537], "nice": false, "zero": false}, "axis": {"title": "结合能/eV", "values": [526,527,528,529,530,531,532,533,534,535,536,537], "labelExpr": "datum.value % 2 == 0 ? datum.label : ''", "titlePadding": 8}},
    "y": {"field": "y", "type": "quantitative", "scale": {"domain": [0, 202], "nice": false, "zero": false}, "axis": {"title": null}}
  },
  "layer": [
    {"data": {"name": "b_raw"}, "mark": {"type": "line", "color": "#111111", "strokeWidth": 1.4}, "encoding": {"detail": {"field": "s"}}},
    {"data": {"name": "b_fit"}, "mark": {"type": "line", "color": "#e31b1b", "strokeWidth": 1.3, "interpolate": "monotone"}, "encoding": {"detail": {"field": "s"}}},
    {"data": {"name": "b_comp"}, "mark": {"type": "line", "strokeWidth": 1.1, "interpolate": "monotone"}, "encoding": {"detail": {"field": "s"}, "color": {"field": "c", "type": "nominal", "scale": {"domain": ["mo","moh","co","bg"], "range": ["#2f9d9d","#e83ee8","#a8a23e","#1e2a8c"]}, "legend": null}}},
    {"data": {"name": "b_text"}, "mark": {"type": "text"}, "encoding": {"text": {"field": "t"}}},
    {"data": {"name": "ytitle_b"}, "mark": {"type": "text", "angle": 270, "font": "Noto Sans CJK SC", "fontSize": 13, "align": "center"}, "encoding": {"text": {"field": "t"}}},
    {"data": {"values": [{"x": 526, "y": 202}]}, "mark": {"type": "point", "shape": "M0,-1L0.67,1L-0.67,1Z", "size": 100, "filled": true, "color": "#000000", "opacity": 1, "yOffset": 5}}
  ]
},
{
  "width": 326, "height": 203,
  "encoding": {
    "x": {"field": "x", "type": "quantitative", "scale": {"domain": [849.6, 884.3], "nice": false, "zero": false}, "axis": {"title": "结合能/eV", "values": [852,855,858,861,864,867,870,873,876,879,882], "labelExpr": "(datum.value - 852) % 6 == 0 ? datum.label : ''", "titlePadding": 8}},
    "y": {"field": "y", "type": "quantitative", "scale": {"domain": [0, 203], "nice": false, "zero": false}, "axis": {"title": null}}
  },
  "layer": [
    {"data": {"name": "c_raw"}, "mark": {"type": "line", "color": "#111111", "strokeWidth": 1.4}, "encoding": {"detail": {"field": "s"}}},
    {"data": {"name": "c_fit"}, "mark": {"type": "line", "color": "#e31b1b", "strokeWidth": 1.4, "interpolate": "monotone"}, "encoding": {"detail": {"field": "s"}}},
    {"data": {"name": "c_comp"}, "mark": {"type": "line", "strokeWidth": 1.1, "interpolate": "monotone"}, "encoding": {"detail": {"field": "s"}, "color": {"field": "c", "type": "nominal", "scale": {"domain": ["g","o","s","bg"], "range": ["#1fa34a","#e3ab14","#6e1c1c","#6e2a22"]}, "legend": null}}},
    {"data": {"name": "c_text"}, "mark": {"type": "text"}, "encoding": {"text": {"field": "t"}}},
    {"data": {"name": "c_small"}, "mark": {"type": "text", "fontSize": 10, "align": "left"}, "encoding": {"text": {"field": "t"}}},
    {"data": {"name": "ytitle_c"}, "mark": {"type": "text", "angle": 270, "font": "Noto Sans CJK SC", "fontSize": 13, "align": "center"}, "encoding": {"text": {"field": "t"}}},
    {"data": {"values": [{"x": 849.6, "y": 203}]}, "mark": {"type": "point", "shape": "M0,-1L0.67,1L-0.67,1Z", "size": 100, "filled": true, "color": "#000000", "opacity": 1, "yOffset": 5}}
  ]
},
{
  "width": 326, "height": 207,
  "encoding": {
    "x": {"field": "x", "type": "quantitative", "scale": {"domain": [632, 660], "nice": false, "zero": false}, "axis": {"title": "结合能/eV", "values": [635,637.5,640,642.5,645,647.5,650,652.5,655,657.5,660], "labelExpr": "datum.value % 5 == 0 ? datum.label : ''", "titlePadding": 13}},
    "y": {"field": "y", "type": "quantitative", "scale": {"domain": [0, 207], "nice": false, "zero": false}, "axis": {"title": null}}
  },
  "layer": [
    {"data": {"name": "d_raw"}, "mark": {"type": "line", "color": "#111111", "strokeWidth": 1.4}, "encoding": {"detail": {"field": "s"}}},
    {"data": {"name": "d_fit"}, "mark": {"type": "line", "color": "#e31b1b", "strokeWidth": 1.6, "interpolate": "monotone"}, "encoding": {"detail": {"field": "s"}}},
    {"data": {"name": "d_comp"}, "mark": {"type": "line", "strokeWidth": 1.2, "interpolate": "monotone"}, "encoding": {"detail": {"field": "s"}, "color": {"field": "c", "type": "nominal", "scale": {"domain": ["g","m","o"], "range": ["#1c9a48","#e21fe2","#e6a514"]}, "legend": null}}},
    {"data": {"name": "d_text"}, "mark": {"type": "text"}, "encoding": {"text": {"field": "t"}}},
    {"data": {"name": "d_small"}, "mark": {"type": "text", "fontSize": 10, "align": "left"}, "encoding": {"text": {"field": "t"}}},
    {"data": {"name": "ytitle_d"}, "mark": {"type": "text", "angle": 270, "font": "Noto Sans CJK SC", "fontSize": 13, "align": "center"}, "encoding": {"text": {"field": "t"}}},
    {"data": {"values": [{"x": 632, "y": 207}]}, "mark": {"type": "point", "shape": "M0,-1L0.67,1L-0.67,1Z", "size": 100, "filled": true, "color": "#000000", "opacity": 1, "yOffset": 5}}
  ]
}
]
}
